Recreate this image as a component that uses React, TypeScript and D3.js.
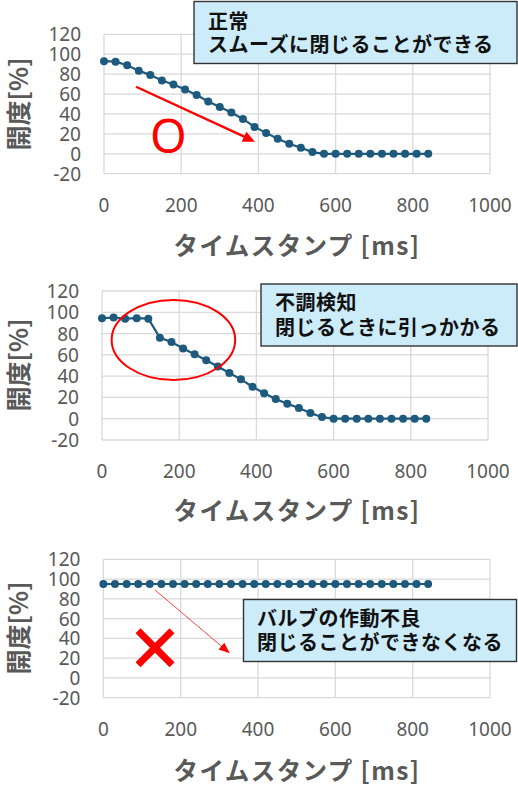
import React from "react";
import * as d3 from "d3";

const TIMES = [0, 30, 60, 90, 120, 150, 180, 210, 240, 270, 300, 330, 360, 390, 420, 450, 480, 510, 540, 570, 600, 630, 660, 690, 720, 750, 780, 810, 840];
const NORMAL = [93, 92.5, 89, 83.5, 79, 73.5, 69.5, 64.5, 59, 52.5, 47, 41.5, 35, 27, 21, 15, 10, 6, 1.7, 0, 0, 0, 0, 0, 0, 0, 0, 0, 0];
const STICKY = [94.5, 95, 94, 94.5, 94, 76, 72, 66, 60.5, 55, 49, 43, 37, 30, 24, 18.5, 14, 10, 5.3, 1.5, 0, 0, 0, 0, 0, 0, 0, 0, 0];
const STUCK = [95, 95, 95, 95, 95, 95, 95, 95, 95, 95, 95, 95, 95, 95, 95, 95, 95, 95, 95, 95, 95, 95, 95, 95, 95, 95, 95, 95, 95];
const X_TICKS = [0, 200, 400, 600, 800, 1000];
const Y_TICKS = [-20, 0, 20, 40, 60, 80, 100, 120];
const X_TITLE = "タイムスタンプ [ms]";
const Y_TITLE = "開度[%]";
const NOTE1 = ["正常", "スムーズに閉じることができる"];
const NOTE2 = ["不調検知", "閉じるときに引っかかる"];
const NOTE3 = ["バルブの作動不良", "閉じることができなくなる"];

const SERIES = "#1d5a7d";
const GRID = "#d9d9d9";
const AXIS_TXT = "#595959";
const RED = "#ff0000";
const BOX_FILL = "#ccecfa";
const JP = "'Noto Sans CJK JP', 'Noto Sans', sans-serif";
const NUM = "'Noto Sans', 'Liberation Sans', sans-serif";

type Box = { x: number; y: number; w: number; h: number; tx: number; l1: number; l2: number; lines: string[] };

function arrowHead(x1: number, y1: number, x2: number, y2: number, len: number, half: number) {
  const a = Math.atan2(y2 - y1, x2 - x1);
  const bx = x2 - len * Math.cos(a);
  const by = y2 - len * Math.sin(a);
  const px = -Math.sin(a) * half;
  const py = Math.cos(a) * half;
  return `${x2},${y2} ${bx + px},${by + py} ${bx - px},${by - py}`;
}

function Chart({
  xr, yr, values, box, titleY, yTitleY, extra,
}: {
  xr: [number, number];
  yr: [number, number];
  values: number[];
  box: Box;
  titleY: number;
  yTitleY: number;
  extra: (x: d3.ScaleLinear<number, number>, y: d3.ScaleLinear<number, number>) => React.ReactNode;
}) {
  const x = d3.scaleLinear().domain([0, 1000]).range(xr);
  const y = d3.scaleLinear().domain([-20, 120]).range(yr);
  const line = d3.line<number>().x((_, i) => x(TIMES[i])).y((v) => y(v));
  const bottom = yr[0];
  return (
    <g>
      {Y_TICKS.map((t) => (
        <line key={"h" + t} x1={xr[0]} x2={xr[1]} y1={y(t)} y2={y(t)} stroke={GRID} strokeWidth={1.3} />
      ))}
      {X_TICKS.map((t) => (
        <line key={"v" + t} x1={x(t)} x2={x(t)} y1={yr[1]} y2={yr[0]} stroke={GRID} strokeWidth={1.3} />
      ))}
      {Y_TICKS.map((t) => (
        <text key={"yl" + t} x={xr[0] - 23} y={y(t)} textAnchor="end" dominantBaseline="central"
          fontFamily={NUM} fontSize={19} fill={AXIS_TXT}>{t}</text>
      ))}
      {X_TICKS.map((t) => (
        <text key={"xl" + t} x={x(t)} y={bottom + 31} textAnchor="middle" dominantBaseline="central"
          fontFamily={NUM} fontSize={19} fill={AXIS_TXT}>{t}</text>
      ))}
      <text x={297} y={titleY} textAnchor="middle" dominantBaseline="central" fontFamily={JP}
        fontWeight="bold" fontSize={24.5} letterSpacing={1.4} fill={AXIS_TXT}>{X_TITLE}</text>
      <text transform={`translate(17,${yTitleY}) rotate(-90)`} textAnchor="middle" dominantBaseline="central"
        fontFamily={JP} fontWeight="bold" fontSize={25} fill={AXIS_TXT}>{Y_TITLE}</text>
      <path d={line(values) || ""} fill="none" stroke={SERIES} strokeWidth={2.2} />
      {values.map((v, i) => (
        <circle key={"p" + i} cx={x(TIMES[i])} cy={y(v)} r={4} fill={SERIES} />
      ))}
      {extra(x, y)}
      <rect x={box.x} y={box.y} width={box.w} height={box.h} fill={BOX_FILL} stroke="#333" strokeWidth={1.4} />
      <text x={box.tx} y={box.l1} dominantBaseline="central" fontFamily={JP} fontWeight="bold" fontSize={20}
        letterSpacing={0.5} fill="#111">{box.lines[0]}</text>
      <text x={box.tx} y={box.l2} dominantBaseline="central" fontFamily={JP} fontWeight="bold" fontSize={20}
        letterSpacing={0.5} fill="#111">{box.lines[1]}</text>
    </g>
  );
}

export default function App() {
  return (
    <svg width={518} height={787} style={{ position: "absolute", left: 0, top: 0, background: "#fff" }}>
      <Chart
        xr={[104, 490]} yr={[173.7, 34.3]} values={NORMAL}
        box={{ x: 194, y: 1.5, w: 323, h: 62, tx: 208, l1: 20, l2: 43.5, lines: NOTE1 }}
        titleY={244} yTitleY={104}
        extra={(x, y) => {
          const x1 = x(83), y1 = y(67.3), x2 = x(391), y2 = y(12);
          return (
            <g>
              <line x1={x1} y1={y1} x2={x2 - 8} y2={y2 - 4} stroke={RED} strokeWidth={2.4} />
              <polygon points={arrowHead(x1, y1, x2, y2, 12, 5.5)} fill={RED} />
              <text x={x(167)} y={y(19)} textAnchor="middle" dominantBaseline="central" fontFamily={NUM}
                fontSize={47} fill={RED}>O</text>
            </g>
          );
        }}
      />
      <Chart
        xr={[102, 488]} yr={[440, 291]} values={STICKY}
        box={{ x: 261, y: 284, w: 256, h: 62, tx: 275, l1: 301.5, l2: 326, lines: NOTE2 }}
        titleY={509} yTitleY={365}
        extra={(x, y) => (
          <ellipse cx={x(185)} cy={y(74)} rx={x(160) - x(0)} ry={y(0) - y(37.6)} fill="none" stroke={RED} strokeWidth={2} />
        )}
      />
      <Chart
        xr={[103.4, 490]} yr={[697.7, 559.3]} values={STUCK}
        box={{ x: 243.5, y: 599.5, w: 273, h: 62, tx: 257, l1: 617, l2: 641, lines: NOTE3 }}
        titleY={769.5} yTitleY={628}
        extra={(x, y) => {
          const x1 = x(133.5), y1 = y(89), x2 = x(327), y2 = y(25);
          const cx = x(133.5), cy = y(30.5), h = 17;
          return (
            <g>
              <line x1={x1} y1={y1} x2={x2 - 6} y2={y2 - 5} stroke="#ff3030" strokeWidth={0.9} />
              <polygon points={arrowHead(x1, y1, x2, y2, 11, 4.5)} fill={RED} />
              <line x1={cx - h} y1={cy - h} x2={cx + h} y2={cy + h} stroke={RED} strokeWidth={7} />
              <line x1={cx - h} y1={cy + h} x2={cx + h} y2={cy - h} stroke={RED} strokeWidth={7} />
            </g>
          );
        }}
      />
    </svg>
  );
}
